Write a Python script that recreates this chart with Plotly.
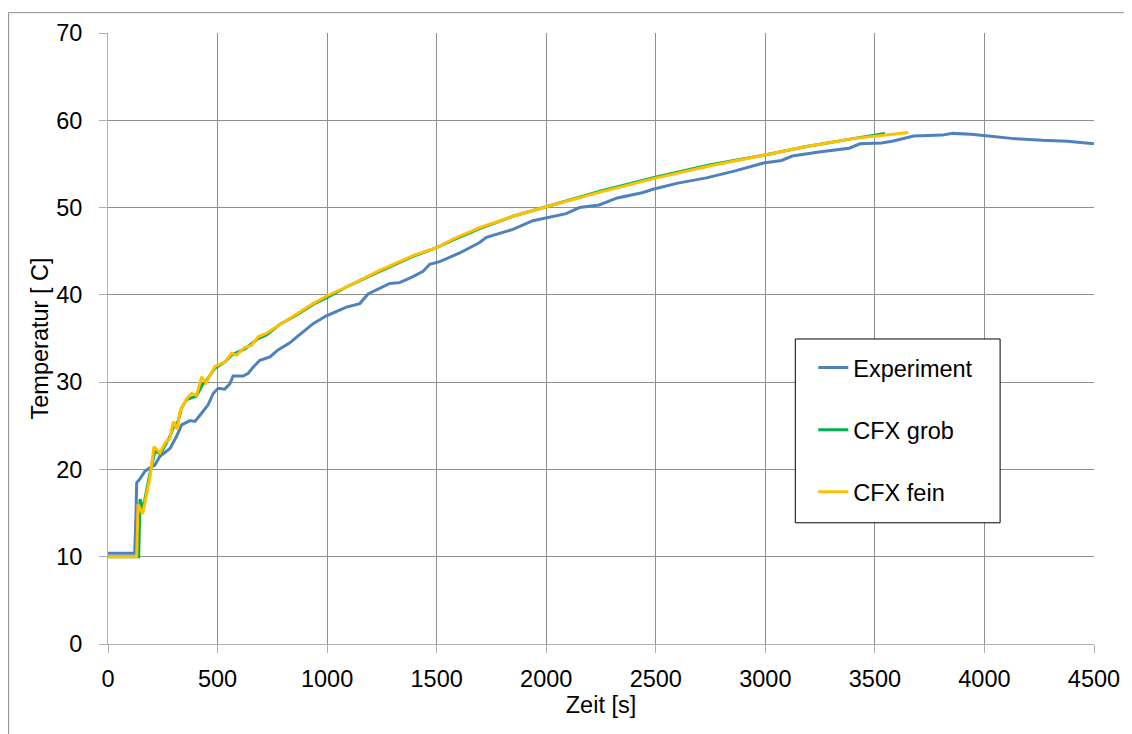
import plotly.graph_objects as go

# ---- data ----
t_exp = [0, 60, 122, 128, 131, 143, 169, 191, 214, 237, 260, 283, 313, 336, 374, 397, 435, 457, 480, 503,
         533, 556, 571, 617, 640, 662, 693, 739, 776, 830, 868, 936, 997, 1088, 1149, 1187, 1286, 1331, 1392,
         1438, 1468, 1514, 1605, 1696, 1727, 1848, 1939, 2000, 2091, 2152, 2242, 2324, 2438, 2487, 2601, 2731,
         2862, 2992, 3074, 3123, 3253, 3383, 3432, 3530, 3579, 3677, 3807, 3856, 3938, 4019, 4133, 4264, 4378, 4500]
T_exp = [10.4, 10.4, 10.4, 15.0, 18.5, 18.8, 19.8, 20.2, 20.5, 21.5, 21.9, 22.4, 23.8, 25.1, 25.6, 25.5, 26.7, 27.4, 28.7, 29.3,
         29.2, 29.8, 30.7, 30.7, 31.0, 31.7, 32.5, 32.9, 33.7, 34.5, 35.3, 36.7, 37.6, 38.6, 39.0, 40.1, 41.3, 41.4, 42.1,
         42.7, 43.5, 43.8, 44.8, 46.0, 46.6, 47.5, 48.5, 48.8, 49.3, 50.0, 50.3, 51.1, 51.7, 52.1, 52.8, 53.4,
         54.2, 55.1, 55.4, 55.9, 56.4, 56.8, 57.3, 57.4, 57.6, 58.2, 58.3, 58.5, 58.4, 58.2, 57.9, 57.7, 57.6, 57.3]

t_grob = [0, 140, 146, 160, 191, 214, 240, 283, 298, 320, 335, 359, 404, 430, 450, 488, 533, 564, 625, 685,
          723, 784, 860, 936, 1000, 1088, 1240, 1392, 1500, 1575, 1696, 1848, 2000, 2250, 2503, 2750, 2992,
          3188, 3400, 3546]
T_grob = [10.0, 10.0, 16.6, 15.5, 19.5, 22.1, 21.8, 23.8, 24.8, 25.5, 27.0, 28.0, 28.4, 29.7, 30.2, 31.6, 32.3, 33.1, 33.8, 35.0,
          35.4, 36.6, 37.7, 38.9, 39.7, 40.9, 42.7, 44.4, 45.4, 46.3, 47.6, 49.0, 50.1, 51.9, 53.5, 54.9, 56.0,
          57.0, 57.9, 58.5]

t_fein = [0, 131, 137, 158, 191, 210, 237, 260, 283, 298, 316, 328, 359, 382, 404, 427, 447, 488, 533, 564,
          587, 625, 655, 685, 723, 784, 860, 936, 1000, 1088, 1240, 1392, 1500, 1575, 1696, 1848, 2000, 2250,
          2503, 2750, 2992, 3188, 3400, 3500, 3652]
T_fein = [10.0, 10.0, 16.0, 14.9, 19.0, 22.6, 21.9, 23.0, 23.6, 25.5, 24.6, 26.6, 28.1, 28.7, 28.5, 30.6, 29.9, 31.8, 32.3, 33.3,
          33.1, 34.0, 34.2, 35.2, 35.6, 36.6, 37.8, 39.0, 39.9, 40.9, 42.8, 44.5, 45.4, 46.4, 47.7, 49.0, 50.1, 51.8,
          53.4, 54.8, 56.0, 57.0, 57.9, 58.2, 58.6]

x_ticks = [0, 500, 1000, 1500, 2000, 2500, 3000, 3500, 4000, 4500]
y_ticks = [0, 10, 20, 30, 40, 50, 60, 70]

FONT = "Liberation Sans, Arial, sans-serif"
FS = 23.5
GRID = "#8f8f8f"
AX = "#b0b0b0"

fig = go.Figure()
fig.add_trace(go.Scatter(x=t_exp, y=T_exp, mode="lines", name="Experiment",
                         line=dict(color="#4F81BD", width=3), legendgroup="a"))
fig.add_trace(go.Scatter(x=t_grob, y=T_grob, mode="lines", name="CFX grob",
                         line=dict(color="#00B050", width=3), legendgroup="b"))
fig.add_trace(go.Scatter(x=t_fein, y=T_fein, mode="lines", name="CFX fein",
                         line=dict(color="#FFC000", width=3), legendgroup="c"))

# page body has an 8px margin, so the figure is shifted by 8px; plot area kept at page px 108..1095 / 29..644
fig.update_layout(
    width=1124, height=726,
    margin=dict(l=100, r=37, t=21, b=90),
    paper_bgcolor="white", plot_bgcolor="white",
    font=dict(family=FONT, size=FS, color="black"),
    showlegend=True,
    legend=dict(x=0.7153, y=0.488, xanchor="left", yanchor="top",
                bgcolor="rgba(0,0,0,0)", borderwidth=0,
                tracegroupgap=28.5, font=dict(size=FS, family=FONT)),
    xaxis=dict(range=[0, 4500], tickvals=x_ticks, showgrid=True, gridcolor=GRID, gridwidth=1,
               zeroline=False, showline=True, linecolor=AX, linewidth=1,
               ticks="outside", ticklen=8, tickcolor=AX, ticklabelstandoff=6,
               title=dict(text="Zeit [s]", standoff=2, font=dict(size=FS))),
    yaxis=dict(range=[0, 70], tickvals=y_ticks, showgrid=True, gridcolor=GRID, gridwidth=1,
               zeroline=False, showline=True, linecolor=AX, linewidth=1,
               ticks="outside", ticklen=8, tickcolor=AX, ticklabelstandoff=12,
               title=dict(text="Temperatur [ C]", standoff=0, font=dict(size=FS))),
    shapes=[
        # legend box
        dict(type="rect", xref="paper", yref="paper",
             x0=(796 - 108) / 987, x1=(1001 - 108) / 987,
             y0=(644 - 522) / 615, y1=(644 - 337) / 615,
             line=dict(color="black", width=1), fillcolor="white", layer="above"),
        # outer chart border
        dict(type="rect", xref="paper", yref="paper",
             x0=(8.5 - 108) / 987, x1=(1128 - 108) / 987,
             y0=-0.3, y1=(644 - 8.5) / 615,
             line=dict(color="#8c8c8c", width=1), fillcolor="rgba(0,0,0,0)", layer="below"),
    ],
)

fig.write_html("out.html")
